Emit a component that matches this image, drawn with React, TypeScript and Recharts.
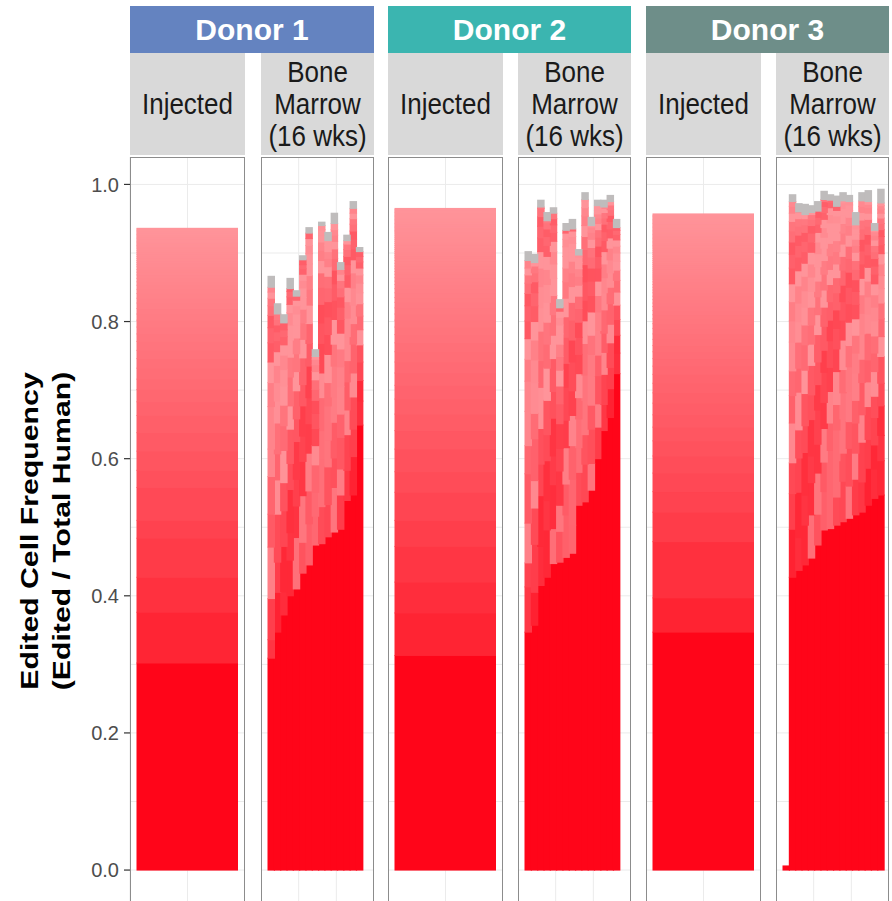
import React from 'react';
import { BarChart, Bar, Cell, XAxis, YAxis, CartesianGrid } from 'recharts';

// ── Edited clone frequency: injected product vs bone marrow at 16 weeks ──
// Each stacked segment is one edited clone (fraction of total human cells).
// Marrow bars: largest clone at the bottom, other clones above, unassigned on top (grey).

const FONT = '"Liberation Sans", Arial, Helvetica, sans-serif';

const donors = ['Donor 1', 'Donor 2', 'Donor 3'];
const donorColors = ['#6483c0', '#3bb5b0', '#6e8e89'];
const stripLabels = { injected: ['Injected'], marrow: ['Bone', 'Marrow', '(16 wks)'] };

const yTicks = [0, 0.2, 0.4, 0.6, 0.8, 1.0];
const yGridTicks = [0, 0.1, 0.2, 0.3, 0.4, 0.5, 0.6, 0.7, 0.8, 0.9, 1.0];
const xGridTicks = [2.5, 5, 7.5, 10, 12.5, 15];
const marrowSlots = 16;

// injected product: clone sizes, largest first
const donor1Injected = [
  0.302, 0.074, 0.051, 0.057, 0.026, 0.048, 0.025, 0.028, 0.027, 0.025, 0.02, 0.018, 0.015, 0.016,
  0.014, 0.012, 0.013, 0.011, 0.01, 0.01, 0.009, 0.008, 0.008, 0.007, 0.007, 0.006, 0.006, 0.005,
  0.005, 0.005, 0.004, 0.004, 0.004, 0.003, 0.003, 0.003, 0.003, 0.003, 0.003, 0.003, 0.003, 0.003,
  0.002, 0.002, 0.002, 0.002, 0.002, 0.002, 0.002, 0.002, 0.002, 0.002, 0.002, 0.002, 0.002, 0.002,
  0.001,
];
const donor2Injected = [
  0.313, 0.062, 0.045, 0.052, 0.038, 0.041, 0.03, 0.033, 0.027, 0.024, 0.022, 0.02, 0.018, 0.016,
  0.015, 0.013, 0.012, 0.011, 0.01, 0.009, 0.009, 0.008, 0.007, 0.007, 0.006, 0.006, 0.005, 0.005,
  0.005, 0.004, 0.004, 0.004, 0.004, 0.004, 0.004, 0.003, 0.003, 0.003, 0.003, 0.003, 0.003, 0.003,
  0.003, 0.003, 0.003, 0.003, 0.003, 0.002, 0.002, 0.002, 0.002, 0.002, 0.002, 0.002, 0.002, 0.002,
  0.002, 0.002, 0.002, 0.002, 0.002, 0.002, 0.002, 0.002, 0.002,
];
const donor3Injected = [
  0.347, 0.05, 0.082, 0.043, 0.03, 0.027, 0.025, 0.022, 0.02, 0.018, 0.017, 0.015, 0.014, 0.013,
  0.012, 0.011, 0.01, 0.009, 0.009, 0.008, 0.008, 0.007, 0.007, 0.006, 0.006, 0.006, 0.005, 0.005,
  0.005, 0.005, 0.004, 0.004, 0.004, 0.004, 0.004, 0.003, 0.003, 0.003, 0.003, 0.003, 0.003, 0.003,
  0.003, 0.003, 0.003, 0.003, 0.003, 0.003, 0.003, 0.003, 0.002, 0.002, 0.002, 0.002, 0.002, 0.002,
  0.002, 0.002, 0.002, 0.002, 0.002, 0.002, 0.002, 0.002, 0.002, 0.002, 0.002, 0.002, 0.002, 0.002,
  0.002, 0.002, 0.002, 0.002, 0.002,
];

// bone marrow, donor 1 (15 mice)
const donor1MarrowLargest = [0.309, 0.347, 0.372, 0.4, 0.41, 0.433, 0.445, 0.474, 0.476, 0.486, 0.493, 0.497, 0.539, 0.547, 0.649];
const donor1MarrowUnassigned = [0.016, 0.015, 0.012, 0.015, 0.008, 0.006, 0.008, 0.01, 0.005, 0.012, 0.015, 0.01, 0.008, 0.01, 0.006];
const donor1MarrowClones = [
  [0.027, 0.06, 0.075, 0.048, 0.055, 0.04, 0.062, 0.035, 0.03, 0.028, 0.022, 0.018, 0.014, 0.011, 0.009, 0.007],
  [0.058, 0.044, 0.07, 0.05, 0.038, 0.045, 0.032, 0.027, 0.025, 0.02, 0.016, 0.013, 0.01, 0.008, 0.008],
  [0.034, 0.066, 0.052, 0.041, 0.047, 0.036, 0.03, 0.028, 0.024, 0.021, 0.015, 0.012, 0.01, 0.01],
  [0.052, 0.04, 0.063, 0.038, 0.05, 0.034, 0.042, 0.029, 0.025, 0.022, 0.018, 0.012, 0.011, 0.008, 0.004],
  [0.075, 0.046, 0.039, 0.055, 0.033, 0.041, 0.028, 0.026, 0.023, 0.019, 0.016, 0.012, 0.008, 0.006],
  [0.045, 0.068, 0.05, 0.037, 0.044, 0.031, 0.039, 0.027, 0.024, 0.02, 0.017, 0.014, 0.011, 0.009, 0.008, 0.006, 0.007],
  [0.06, 0.048, 0.055, 0.043, 0.038, 0.046, 0.033, 0.029, 0.027, 0.023, 0.02, 0.017, 0.015, 0.012, 0.01, 0.008],
  [0.042, 0.035, 0.04, 0.028, 0.025, 0.022, 0.019, 0.016, 0.014, 0.012, 0.01, 0.008, 0.004],
  [0.054, 0.07, 0.041, 0.048, 0.036, 0.043, 0.03, 0.027, 0.025, 0.021, 0.018, 0.015, 0.012, 0.01, 0.008, 0.006],
  [0.047, 0.055, 0.039, 0.05, 0.034, 0.041, 0.029, 0.026, 0.022, 0.02, 0.017, 0.014, 0.012, 0.01, 0.009, 0.007],
  [0.065, 0.043, 0.052, 0.037, 0.045, 0.032, 0.036, 0.028, 0.024, 0.02, 0.017, 0.014, 0.011, 0.009, 0.008, 0.009],
  [0.05, 0.038, 0.046, 0.034, 0.04, 0.029, 0.026, 0.023, 0.02, 0.018, 0.015, 0.013, 0.011, 0.009, 0.007],
  [0.044, 0.052, 0.036, 0.041, 0.031, 0.035, 0.027, 0.024, 0.021, 0.018, 0.015, 0.012, 0.01, 0.008, 0.005],
  [0.056, 0.04, 0.047, 0.035, 0.042, 0.03, 0.027, 0.025, 0.022, 0.019, 0.016, 0.014, 0.012, 0.01, 0.008, 0.008, 0.007],
  [0.035, 0.03, 0.027, 0.025, 0.022, 0.02, 0.018, 0.016, 0.014, 0.012, 0.01, 0.009, 0.008, 0.007],
];

// bone marrow, donor 2 (15 mice)
const donor2MarrowLargest = [0.347, 0.357, 0.415, 0.427, 0.447, 0.449, 0.456, 0.462, 0.532, 0.537, 0.554, 0.6, 0.641, 0.66, 0.724];
const donor2MarrowUnassigned = [0.013, 0.012, 0.01, 0.012, 0.008, 0.012, 0.01, 0.014, 0.008, 0.01, 0.012, 0.008, 0.01, 0.009, 0.012];
const donor2MarrowClones = [
  [0.066, 0.035, 0.058, 0.072, 0.041, 0.05, 0.044, 0.032, 0.03, 0.026, 0.022, 0.018, 0.015, 0.012, 0.01, 0.011],
  [0.048, 0.07, 0.053, 0.04, 0.061, 0.037, 0.045, 0.033, 0.029, 0.027, 0.023, 0.019, 0.016, 0.013, 0.01, 0.005],
  [0.057, 0.074, 0.046, 0.052, 0.06, 0.039, 0.043, 0.034, 0.031, 0.027, 0.024, 0.02, 0.017, 0.014, 0.012, 0.002],
  [0.069, 0.043, 0.058, 0.038, 0.05, 0.047, 0.035, 0.032, 0.029, 0.026, 0.022, 0.019, 0.016, 0.013, 0.011, 0.009, 0.003],
  [0.051, 0.064, 0.042, 0.055, 0.039, 0.048, 0.034, 0.03, 0.028, 0.025, 0.021, 0.018, 0.015, 0.013, 0.011, 0.009, 0.008],
  [0.045, 0.038, 0.05, 0.033, 0.036, 0.029, 0.026, 0.023, 0.02, 0.018, 0.015, 0.013, 0.011, 0.009, 0.005],
  [0.062, 0.045, 0.053, 0.04, 0.048, 0.035, 0.038, 0.03, 0.027, 0.024, 0.02, 0.017, 0.014, 0.011, 0.009, 0.004],
  [0.041, 0.067, 0.049, 0.044, 0.036, 0.042, 0.032, 0.029, 0.026, 0.023, 0.02, 0.017, 0.014, 0.012, 0.01, 0.008, 0.003],
  [0.048, 0.036, 0.042, 0.031, 0.035, 0.028, 0.025, 0.022, 0.02, 0.018, 0.016, 0.013, 0.011, 0.009, 0.008, 0.003],
  [0.055, 0.043, 0.05, 0.037, 0.046, 0.033, 0.03, 0.027, 0.025, 0.022, 0.019, 0.016, 0.014, 0.012, 0.01, 0.002],
  [0.039, 0.05, 0.035, 0.043, 0.031, 0.028, 0.034, 0.024, 0.021, 0.019, 0.016, 0.014, 0.012, 0.01, 0.008, 0.002],
  [0.046, 0.034, 0.041, 0.03, 0.036, 0.027, 0.024, 0.021, 0.019, 0.017, 0.015, 0.013, 0.011, 0.009, 0.008, 0.006, 0.005, 0.007],
  [0.038, 0.044, 0.032, 0.028, 0.034, 0.025, 0.022, 0.02, 0.018, 0.016, 0.013, 0.011, 0.009, 0.008, 0.006, 0.002],
  [0.042, 0.031, 0.036, 0.027, 0.03, 0.024, 0.021, 0.019, 0.017, 0.015, 0.013, 0.011, 0.009, 0.008, 0.007, 0.005],
  [0.03, 0.026, 0.023, 0.021, 0.019, 0.017, 0.015, 0.013, 0.012, 0.01, 0.009, 0.008, 0.006, 0.004],
];

// bone marrow, donor 3 (16 mice, first one barely engrafted)
const donor3MarrowLargest = [0.006, 0.427, 0.437, 0.445, 0.455, 0.474, 0.496, 0.498, 0.503, 0.508, 0.513, 0.518, 0.522, 0.532, 0.542, 0.547];
const donor3MarrowUnassigned = [0, 0.01, 0.012, 0.015, 0.01, 0.014, 0.012, 0.008, 0.015, 0.012, 0.009, 0.018, 0.012, 0.016, 0.01, 0.02];
const donor3MarrowClones = [
  [],
  [0.07, 0.052, 0.045, 0.058, 0.04, 0.036, 0.042, 0.031, 0.028, 0.026, 0.023, 0.02, 0.018, 0.016, 0.014, 0.012, 0.01, 0.007],
  [0.048, 0.066, 0.05, 0.041, 0.055, 0.035, 0.038, 0.03, 0.027, 0.025, 0.022, 0.02, 0.017, 0.015, 0.013, 0.011, 0.009, 0.001],
  [0.058, 0.044, 0.062, 0.039, 0.047, 0.034, 0.037, 0.029, 0.026, 0.024, 0.021, 0.019, 0.017, 0.015, 0.013, 0.011, 0.009, 0.006],
  [0.063, 0.047, 0.039, 0.053, 0.036, 0.043, 0.031, 0.028, 0.026, 0.023, 0.021, 0.019, 0.017, 0.015, 0.013, 0.011, 0.009, 0.007, 0.003],
  [0.045, 0.06, 0.042, 0.05, 0.037, 0.033, 0.04, 0.029, 0.026, 0.023, 0.021, 0.019, 0.017, 0.014, 0.012, 0.01, 0.009],
  [0.056, 0.043, 0.049, 0.038, 0.044, 0.032, 0.035, 0.028, 0.025, 0.023, 0.02, 0.018, 0.016, 0.014, 0.012, 0.01, 0.009, 0.007, 0.003],
  [0.05, 0.064, 0.04, 0.046, 0.035, 0.039, 0.03, 0.027, 0.025, 0.022, 0.02, 0.018, 0.016, 0.014, 0.012, 0.01, 0.008, 0.003],
  [0.041, 0.053, 0.045, 0.037, 0.048, 0.033, 0.03, 0.027, 0.025, 0.022, 0.02, 0.018, 0.016, 0.014, 0.012, 0.01, 0.008, 0.006],
  [0.059, 0.041, 0.05, 0.038, 0.034, 0.043, 0.029, 0.027, 0.024, 0.022, 0.02, 0.018, 0.016, 0.014, 0.012, 0.01, 0.008, 0.003],
  [0.047, 0.055, 0.039, 0.044, 0.036, 0.031, 0.034, 0.027, 0.024, 0.022, 0.02, 0.018, 0.016, 0.014, 0.012, 0.01, 0.008, 0.005],
  [0.052, 0.038, 0.044, 0.033, 0.04, 0.029, 0.026, 0.024, 0.021, 0.019, 0.017, 0.015, 0.013, 0.012, 0.01, 0.009, 0.008, 0.007, 0.006],
  [0.044, 0.058, 0.04, 0.047, 0.034, 0.037, 0.03, 0.027, 0.024, 0.021, 0.019, 0.017, 0.015, 0.013, 0.011, 0.009, 0.008],
  [0.054, 0.042, 0.048, 0.036, 0.032, 0.039, 0.028, 0.025, 0.023, 0.02, 0.018, 0.016, 0.014, 0.012, 0.01, 0.009, 0.008, 0.005, 0.004],
  [0.043, 0.035, 0.04, 0.031, 0.036, 0.027, 0.025, 0.022, 0.02, 0.018, 0.016, 0.014, 0.012, 0.011, 0.01, 0.009, 0.008, 0.007, 0.005, 0.002],
  [0.05, 0.037, 0.043, 0.033, 0.039, 0.029, 0.026, 0.023, 0.021, 0.019, 0.017, 0.015, 0.013, 0.012, 0.01, 0.009, 0.008, 0.007, 0.006, 0.005, 0.004],
];

// ── layout ──
const PLOT_TOP = 157;
const PLOT_H = 747;
const Y_DOMAIN: [number, number] = [-0.0495, 1.04];
const GRID_X_DOMAIN: [number, number] = [-1.0, 17.4];
const AXIS_W = 130;
const injLeft = [130, 388, 646];
const marrowLeft = [261, 518, 776];
const INJ_W = 115;
const MARROW_W = 113;

const RED = '#ff0519';
const GREY = '#bfbcbc';
const shadeJitter = [-0.3, 0.22, -0.08, 0.35, 0.02, -0.2, 0.28, -0.12, 0.12, 0.4, -0.25, 0.06];

function pink(t: number) {
  const c = Math.max(0, Math.min(1, t));
  return `rgb(255,${Math.round(30 + 118 * c)},${Math.round(46 + 108 * c)})`;
}

// segment drawn a little wider/taller than its slot so neighbouring segments close up
function Segment(props: any) {
  const { x, y, width, height, fill } = props;
  if (!width || !height) return null;
  const top = height < 0 ? y + height : y;
  const h = Math.abs(height);
  return <rect x={x - 0.5} y={top - 0.5} width={width + 1.5} height={h + 1} fill={fill} />;
}

function injectedPanel(values: number[]) {
  const keys = values.map((_, i) => 'c' + i);
  const row: Record<string, any> = { slot: 'inj' };
  values.forEach((v, i) => (row[keys[i]] = v));
  const total = values.reduce((a, b) => a + b, 0);
  let acc = values[0];
  const fills = values.map((v, i) => {
    if (i === 0) return [RED];
    const mid = acc + v / 2;
    acc += v;
    return [pink((mid - values[0]) / (total - values[0]))];
  });
  return { rows: [row], keys, fills };
}

function marrowPanel(largest: number[], clones: number[][], unassigned: number[]) {
  const maxClones = Math.max(...clones.map((c) => c.length));
  const keys = ['c0'];
  for (let k = 1; k <= maxClones; k++) keys.push('c' + k);
  keys.push('u');
  const rows: Record<string, any>[] = [];
  const fills: string[][] = keys.map(() => []);
  for (let b = 0; b < marrowSlots; b++) {
    const row: Record<string, any> = { slot: String(b + 1) };
    const has = b < largest.length;
    const mids = has ? clones[b] : [];
    const midTotal = mids.reduce((a, v) => a + v, 0) || 1;
    let acc = 0;
    keys.forEach((key, ki) => {
      if (key === 'c0') {
        row[key] = has ? largest[b] : 0;
        fills[ki].push(RED);
      } else if (key === 'u') {
        row[key] = has ? unassigned[b] : 0;
        fills[ki].push(GREY);
      } else {
        const v = mids[ki - 1] ?? 0;
        row[key] = v;
        const t = (acc + v / 2) / midTotal;
        acc += v;
        fills[ki].push(pink(0.3 + t * 0.55 + shadeJitter[(b * 5 + ki * 7) % shadeJitter.length]));
      }
    });
    rows.push(row);
  }
  return { rows, keys, fills };
}

function Panel({
  left,
  width,
  panel,
  pad,
  withAxis,
}: {
  left: number;
  width: number;
  panel: { rows: Record<string, any>[]; keys: string[]; fills: string[][] };
  pad: { left: number; right: number };
  withAxis?: boolean;
}) {
  const axisW = withAxis ? AXIS_W : 0;
  return (
    <div style={{ position: 'absolute', left: left - axisW, top: PLOT_TOP }}>
      <BarChart
        width={width + axisW}
        height={PLOT_H}
        data={panel.rows}
        margin={{ top: 0, right: 0, bottom: 0, left: 0 }}
        barCategoryGap={0}
        barGap={0}
      >
        <XAxis dataKey="slot" hide padding={pad} />
        <XAxis xAxisId="grid" type="number" domain={GRID_X_DOMAIN} ticks={xGridTicks} allowDataOverflow hide />
        <YAxis yAxisId="grid" type="number" domain={Y_DOMAIN} ticks={yGridTicks} allowDataOverflow hide />
        <YAxis
          type="number"
          domain={Y_DOMAIN}
          ticks={yTicks}
          allowDataOverflow
          hide={!withAxis}
          width={axisW}
          axisLine={false}
          tickSize={6}
          tickMargin={5}
          tickLine={{ stroke: '#333333', strokeWidth: 1.2 }}
          tick={{ fontSize: 20, fill: '#4d4d4d', fontFamily: FONT }}
          tickFormatter={(v: number) => v.toFixed(1)}
        />
        <CartesianGrid xAxisId="grid" yAxisId="grid" stroke="#ebebeb" strokeWidth={1} />
        {panel.keys.map((k, ki) => (
          <Bar key={k} dataKey={k} stackId="s" shape={Segment} isAnimationActive={false}>
            {panel.rows.map((_, ri) => (
              <Cell key={ri} fill={panel.fills[ki][ri]} />
            ))}
          </Bar>
        ))}
      </BarChart>
      <div
        style={{
          position: 'absolute',
          left: axisW,
          top: 0,
          width,
          height: PLOT_H,
          border: '1px solid #8c8c8c',
          boxSizing: 'border-box',
          pointerEvents: 'none',
        }}
      />
    </div>
  );
}

function Strip({ left, width, lines }: { left: number; width: number; lines: string[] }) {
  return (
    <div
      style={{
        position: 'absolute',
        left,
        top: 53,
        width,
        height: 102,
        background: '#d9d9d9',
        display: 'flex',
        flexDirection: 'column',
        justifyContent: 'center',
        alignItems: 'center',
        fontFamily: FONT,
        fontSize: 26,
        lineHeight: '32px',
        color: '#1a1a1a',
      }}
    >
      {lines.map((l) => (
        <div key={l} style={{ transform: 'scaleY(1.1)' }}>
          {l}
        </div>
      ))}
    </div>
  );
}

export default function App() {
  const injected = [donor1Injected, donor2Injected, donor3Injected].map(injectedPanel);
  const marrow = [
    marrowPanel(donor1MarrowLargest, donor1MarrowClones, donor1MarrowUnassigned),
    marrowPanel(donor2MarrowLargest, donor2MarrowClones, donor2MarrowUnassigned),
    marrowPanel(donor3MarrowLargest, donor3MarrowClones, donor3MarrowUnassigned),
  ];

  return (
    <div
      style={{
        position: 'fixed',
        left: 0,
        top: 0,
        width: 892,
        height: 901,
        overflow: 'hidden',
        background: '#ffffff',
      }}
    >
      {donors.map((d, i) => (
        <div
          key={d}
          style={{
            position: 'absolute',
            left: injLeft[i],
            top: 6,
            width: marrowLeft[i] + MARROW_W - injLeft[i],
            height: 47,
            background: donorColors[i],
            color: '#ffffff',
            fontFamily: FONT,
            fontWeight: 700,
            fontSize: 30,
            display: 'flex',
            alignItems: 'center',
            justifyContent: 'center',
          }}
        >
          {d}
        </div>
      ))}
      {donors.map((d, i) => (
        <React.Fragment key={'s' + d}>
          <Strip left={injLeft[i]} width={INJ_W} lines={stripLabels.injected} />
          <Strip left={marrowLeft[i]} width={MARROW_W} lines={stripLabels.marrow} />
        </React.Fragment>
      ))}
      {donors.map((d, i) => (
        <React.Fragment key={'p' + d}>
          <Panel left={injLeft[i]} width={INJ_W} panel={injected[i]} pad={{ left: 7, right: 8 }} withAxis={i === 0} />
          <Panel left={marrowLeft[i]} width={MARROW_W} panel={marrow[i]} pad={{ left: 7, right: 5 }} />
        </React.Fragment>
      ))}
      <svg width={90} height={PLOT_H} style={{ position: 'absolute', left: 0, top: PLOT_TOP }}>
        <g fontFamily={FONT} fontWeight={700} fontSize={24} fill="#000000" textAnchor="middle">
          <text transform="translate(30,374) rotate(-90) scale(1.26,1)" dominantBaseline="central">
            Edited Cell Frequency
          </text>
          <text transform="translate(62,374) rotate(-90) scale(1.26,1)" dominantBaseline="central">
            (Edited / Total Human)
          </text>
        </g>
      </svg>
    </div>
  );
}
